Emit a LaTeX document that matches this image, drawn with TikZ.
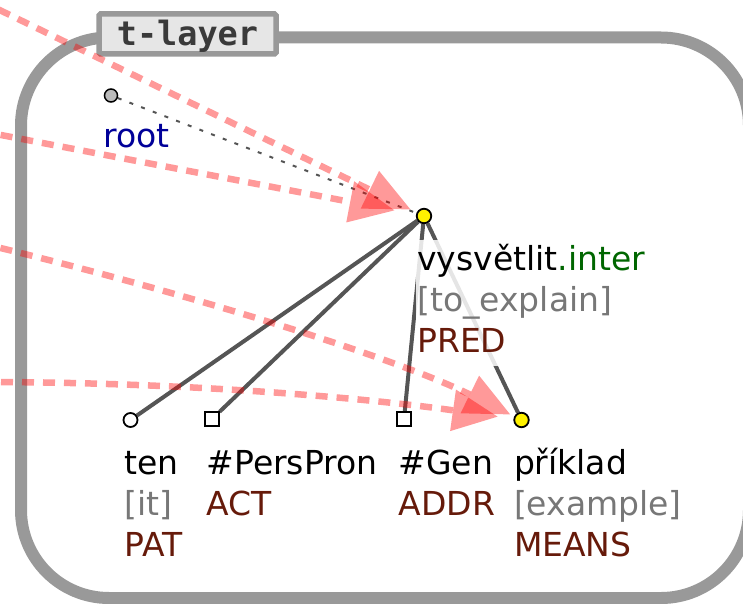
\documentclass[tikz,border=0pt]{standalone}
\usepackage{fontspec}
\setmainfont{DejaVu Sans}
\setmonofont{DejaVu Sans Mono}
\usetikzlibrary{arrows.meta}
\definecolor{framegray}{HTML}{999999}
\definecolor{edgegray}{HTML}{555555}
\definecolor{rootblue}{HTML}{000099}
\definecolor{lemmagreen}{HTML}{006600}
\definecolor{glossgray}{HTML}{777777}
\definecolor{funcred}{HTML}{661A0A}
\definecolor{tagfill}{HTML}{E6E6E6}
\definecolor{tagtext}{HTML}{3A3A3A}
\definecolor{rootfill}{HTML}{BBBBBB}
\pgfdeclarelayer{bg}
\pgfdeclarelayer{edgelayer}
\pgfdeclarelayer{fg}
\pgfsetlayers{bg,edgelayer,main,fg}
\tikzset{
  frame/.style={draw=framegray, line width=12pt, rounded corners=88pt},
  layertag/.style={draw=framegray, fill=tagfill, line width=5.5pt, rounded corners=1.5pt,
    minimum width=177pt, minimum height=40pt, inner sep=0pt, text=tagtext,
    font=\fontsize{33.5pt}{40pt}\selectfont\ttfamily\bfseries, text height=25pt, text depth=1pt},
  lbl/.style={anchor=base west, inner sep=1.5pt, fill=white, fill opacity=0.85, text opacity=1,
    font=\fontsize{33pt}{41pt}\selectfont},
  rootnode/.style={circle, draw=black, fill=rootfill, line width=1.5pt, minimum size=13pt, inner sep=0pt},
  yellownode/.style={circle, draw=black, fill=yellow, line width=1.8pt, minimum size=14.5pt, inner sep=0pt},
  whitenode/.style={circle, draw=black, fill=white, line width=1.8pt, minimum size=14pt, inner sep=0pt},
  squarenode/.style={rectangle, draw=black, fill=white, line width=1.6pt, minimum size=13.5pt, inner sep=0pt},
  edge/.style={draw=edgegray, line width=4pt},
  dotedge/.style={draw=edgegray, line width=2pt, dash pattern=on 4pt off 8.5pt},
  alignarrow/.style={draw=red, opacity=0.4, line width=6.5pt, dash pattern=on 12pt off 9pt,
    -{Triangle[length=45pt, width=42pt, line width=0pt]}}
}
\begin{document}
\begin{tikzpicture}[x=1pt, y=-1pt]
\useasboundingbox (0,0) rectangle (743,604);
% frame
\begin{pgfonlayer}{bg}
\draw[frame] (21,37.5) rectangle (749,598);
\end{pgfonlayer}
\node[layertag] (tlayer) at (187.5,34) {t-layer};
% nodes
\node[rootnode] (root) at (111,95.5) {};
\node[yellownode] (pred) at (424,216) {};
\node[whitenode] (ten) at (130.5,420) {};
\node[squarenode] (pers) at (212,419) {};
\node[squarenode] (gen) at (404,419) {};
\node[yellownode] (prik) at (521.5,420) {};
% labels
\node[lbl, text=rootblue] (rootlbl) at (101.6,148) {root};
\node[lbl] (predlbl) at (415.5,270) {\begin{tabular}[t]{@{}l@{}}vysvětlit\textcolor{lemmagreen}{.inter}\\\textcolor{glossgray}{[to\_explain]}\\\textcolor{funcred}{PRED}\end{tabular}};
\node[lbl] (tenlbl) at (122.6,474) {\begin{tabular}[t]{@{}l@{}}ten\\\textcolor{glossgray}{[it]}\\\textcolor{funcred}{PAT}\end{tabular}};
\node[lbl] (perslbl) at (205,474) {\begin{tabular}[t]{@{}l@{}}\#PersPron\\\textcolor{funcred}{ACT}\end{tabular}};
\node[lbl] (genlbl) at (397,474) {\begin{tabular}[t]{@{}l@{}}\#Gen\\\textcolor{funcred}{ADDR}\end{tabular}};
\node[lbl] (priklbl) at (512.3,474) {\begin{tabular}[t]{@{}l@{}}příklad\\\textcolor{glossgray}{[example]}\\\textcolor{funcred}{MEANS}\end{tabular}};
% edges
\begin{pgfonlayer}{edgelayer}
\draw[edge] (pred) -- (ten);
\draw[edge] (pred) -- (pers);
\draw[edge] (pred) -- (gen);
\draw[edge] (pred) -- (prik);
\draw[dotedge] (root) -- (pred);
\end{pgfonlayer}
% alignment arrows
\coordinate (s1) at (-20,0.5);
\coordinate (s2) at (-20,131);
\coordinate (s3) at (-20,243);
\coordinate (s4) at (-20,382);
\begin{pgfonlayer}{fg}
\draw[alignarrow, shorten >=7pt] (s1) -- (pred);
\draw[alignarrow, shorten >=22pt] (s2) -- (pred);
\draw[alignarrow, shorten >=4.5pt] (s3) .. controls (200,296) and (400,360) .. (prik);
\draw[alignarrow, shorten >=16pt] (s4) .. controls (200,382) and (380,400) .. (prik);
\end{pgfonlayer}
\end{tikzpicture}
\end{document}
